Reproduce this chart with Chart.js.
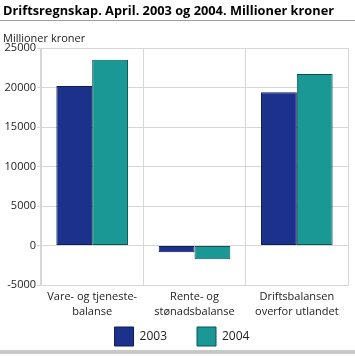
<!DOCTYPE html>
<html>
<head>
<meta charset="utf-8">
<script src="https://cdn.jsdelivr.net/npm/chart.js@4"></script>
<style>
    html, body { margin: 0; padding: 0; background: #fff; }
    #wrap { width: 355px; height: 356px; position: relative; }
</style>
</head>
<body>
<div id="wrap"><canvas id="chart"></canvas></div>
<script>
// data
var categories = [
    ['Vare- og tjeneste-', 'balanse'],
    ['Rente- og', 'stønadsbalanse'],
    ['Driftsbalansen', 'overfor utlandet']
];
var years = ['2003', '2004'];
var values2003 = [20200, -850, 19400];
var values2004 = [23500, -1750, 21700];
var yTicks = [-5000, 0, 5000, 10000, 15000, 20000, 25000];

var fontName = '"Open Sans", "DejaVu Sans", sans-serif';

// title, unit label and the grey rules
var decorations = {
    id: 'decorations',
    afterLayout: function (chart) {
        // nudge the centred legend a little to the right
        if (chart.legend) {
            chart.legend.left += 8;
            chart.legend.right += 8;
        }
    },
    afterDraw: function (chart) {
        var ctx = chart.ctx;
        ctx.save();
        ctx.fillStyle = '#000';
        ctx.font = 'bold 13px ' + fontName;
        ctx.textBaseline = 'alphabetic';
        ctx.textAlign = 'left';
        ctx.fillText('Driftsregnskap. April. 2003 og 2004. Millioner kroner', 3, 15, 331);

        ctx.strokeStyle = '#a0a0a0';
        ctx.lineWidth = 1;
        ctx.beginPath();
        ctx.moveTo(0, 20.5);
        ctx.lineTo(355, 20.5);
        ctx.stroke();

        ctx.font = '11px ' + fontName;
        ctx.fillStyle = '#222';
        ctx.textBaseline = 'middle';
        ctx.fillText('Millioner kroner', 3, 39);

        ctx.fillStyle = '#c8c8c8';
        ctx.fillRect(0, 350, 355, 4);
        ctx.restore();
    }
};

document.addEventListener('DOMContentLoaded', function () {
    var ctx = document.getElementById('chart').getContext('2d');
    new Chart(ctx, {
        type: 'bar',
        data: {
            labels: categories,
            datasets: [
                {
                    label: years[0],
                    data: values2003,
                    backgroundColor: '#1b318b',
                    borderColor: '#0e1d55',
                    borderWidth: 1,
                    borderSkipped: false
                },
                {
                    label: years[1],
                    data: values2004,
                    backgroundColor: '#1a9896',
                    borderColor: '#0d5553',
                    borderWidth: 1,
                    borderSkipped: false
                }
            ]
        },
        options: {
            responsive: true,
            maintainAspectRatio: false,
            animation: false,
            devicePixelRatio: 1,
            categoryPercentage: 0.7,
            barPercentage: 1.0,
            layout: { padding: { top: 48, right: 7, bottom: 0, left: 0 } },
            plugins: {
                title: { display: false },
                tooltip: { enabled: false },
                legend: {
                    position: 'bottom',
                    labels: {
                        boxWidth: 19,
                        boxHeight: 19,
                        padding: 6,
                        color: '#222',
                        font: { family: fontName, size: 12 },
                        generateLabels: function (chart) {
                            var items = Chart.defaults.plugins.legend.labels.generateLabels(chart);
                            // wider gap after the first item, as in the original
                            items[0].text = items[0].text + '\u2003\u2003';
                            return items;
                        }
                    }
                }
            },
            scales: {
                x: {
                    afterFit: function (scale) { scale.height = 36; },
                    grid: { color: '#d6d6d6', offset: true, drawTicks: false },
                    border: { color: '#d6d6d6' },
                    ticks: {
                        color: '#222',
                        padding: 5,
                        maxRotation: 0,
                        autoSkip: false,
                        font: { family: fontName, size: 11, lineHeight: 1.3 }
                    }
                },
                y: {
                    min: -5000,
                    max: 25000,
                    afterBuildTicks: function (scale) {
                        scale.ticks = yTicks.map(function (v) { return { value: v }; });
                    },
                    afterFit: function (scale) { scale.width = 41; },
                    grid: { color: '#d6d6d6', tickLength: 4 },
                    border: { color: '#d6d6d6' },
                    ticks: {
                        color: '#222',
                        padding: 1,
                        font: { family: fontName, size: 11 },
                        callback: function (value) { return String(value); }
                    }
                }
            }
        },
        plugins: [decorations]
    });
});
</script>
</body>
</html>
